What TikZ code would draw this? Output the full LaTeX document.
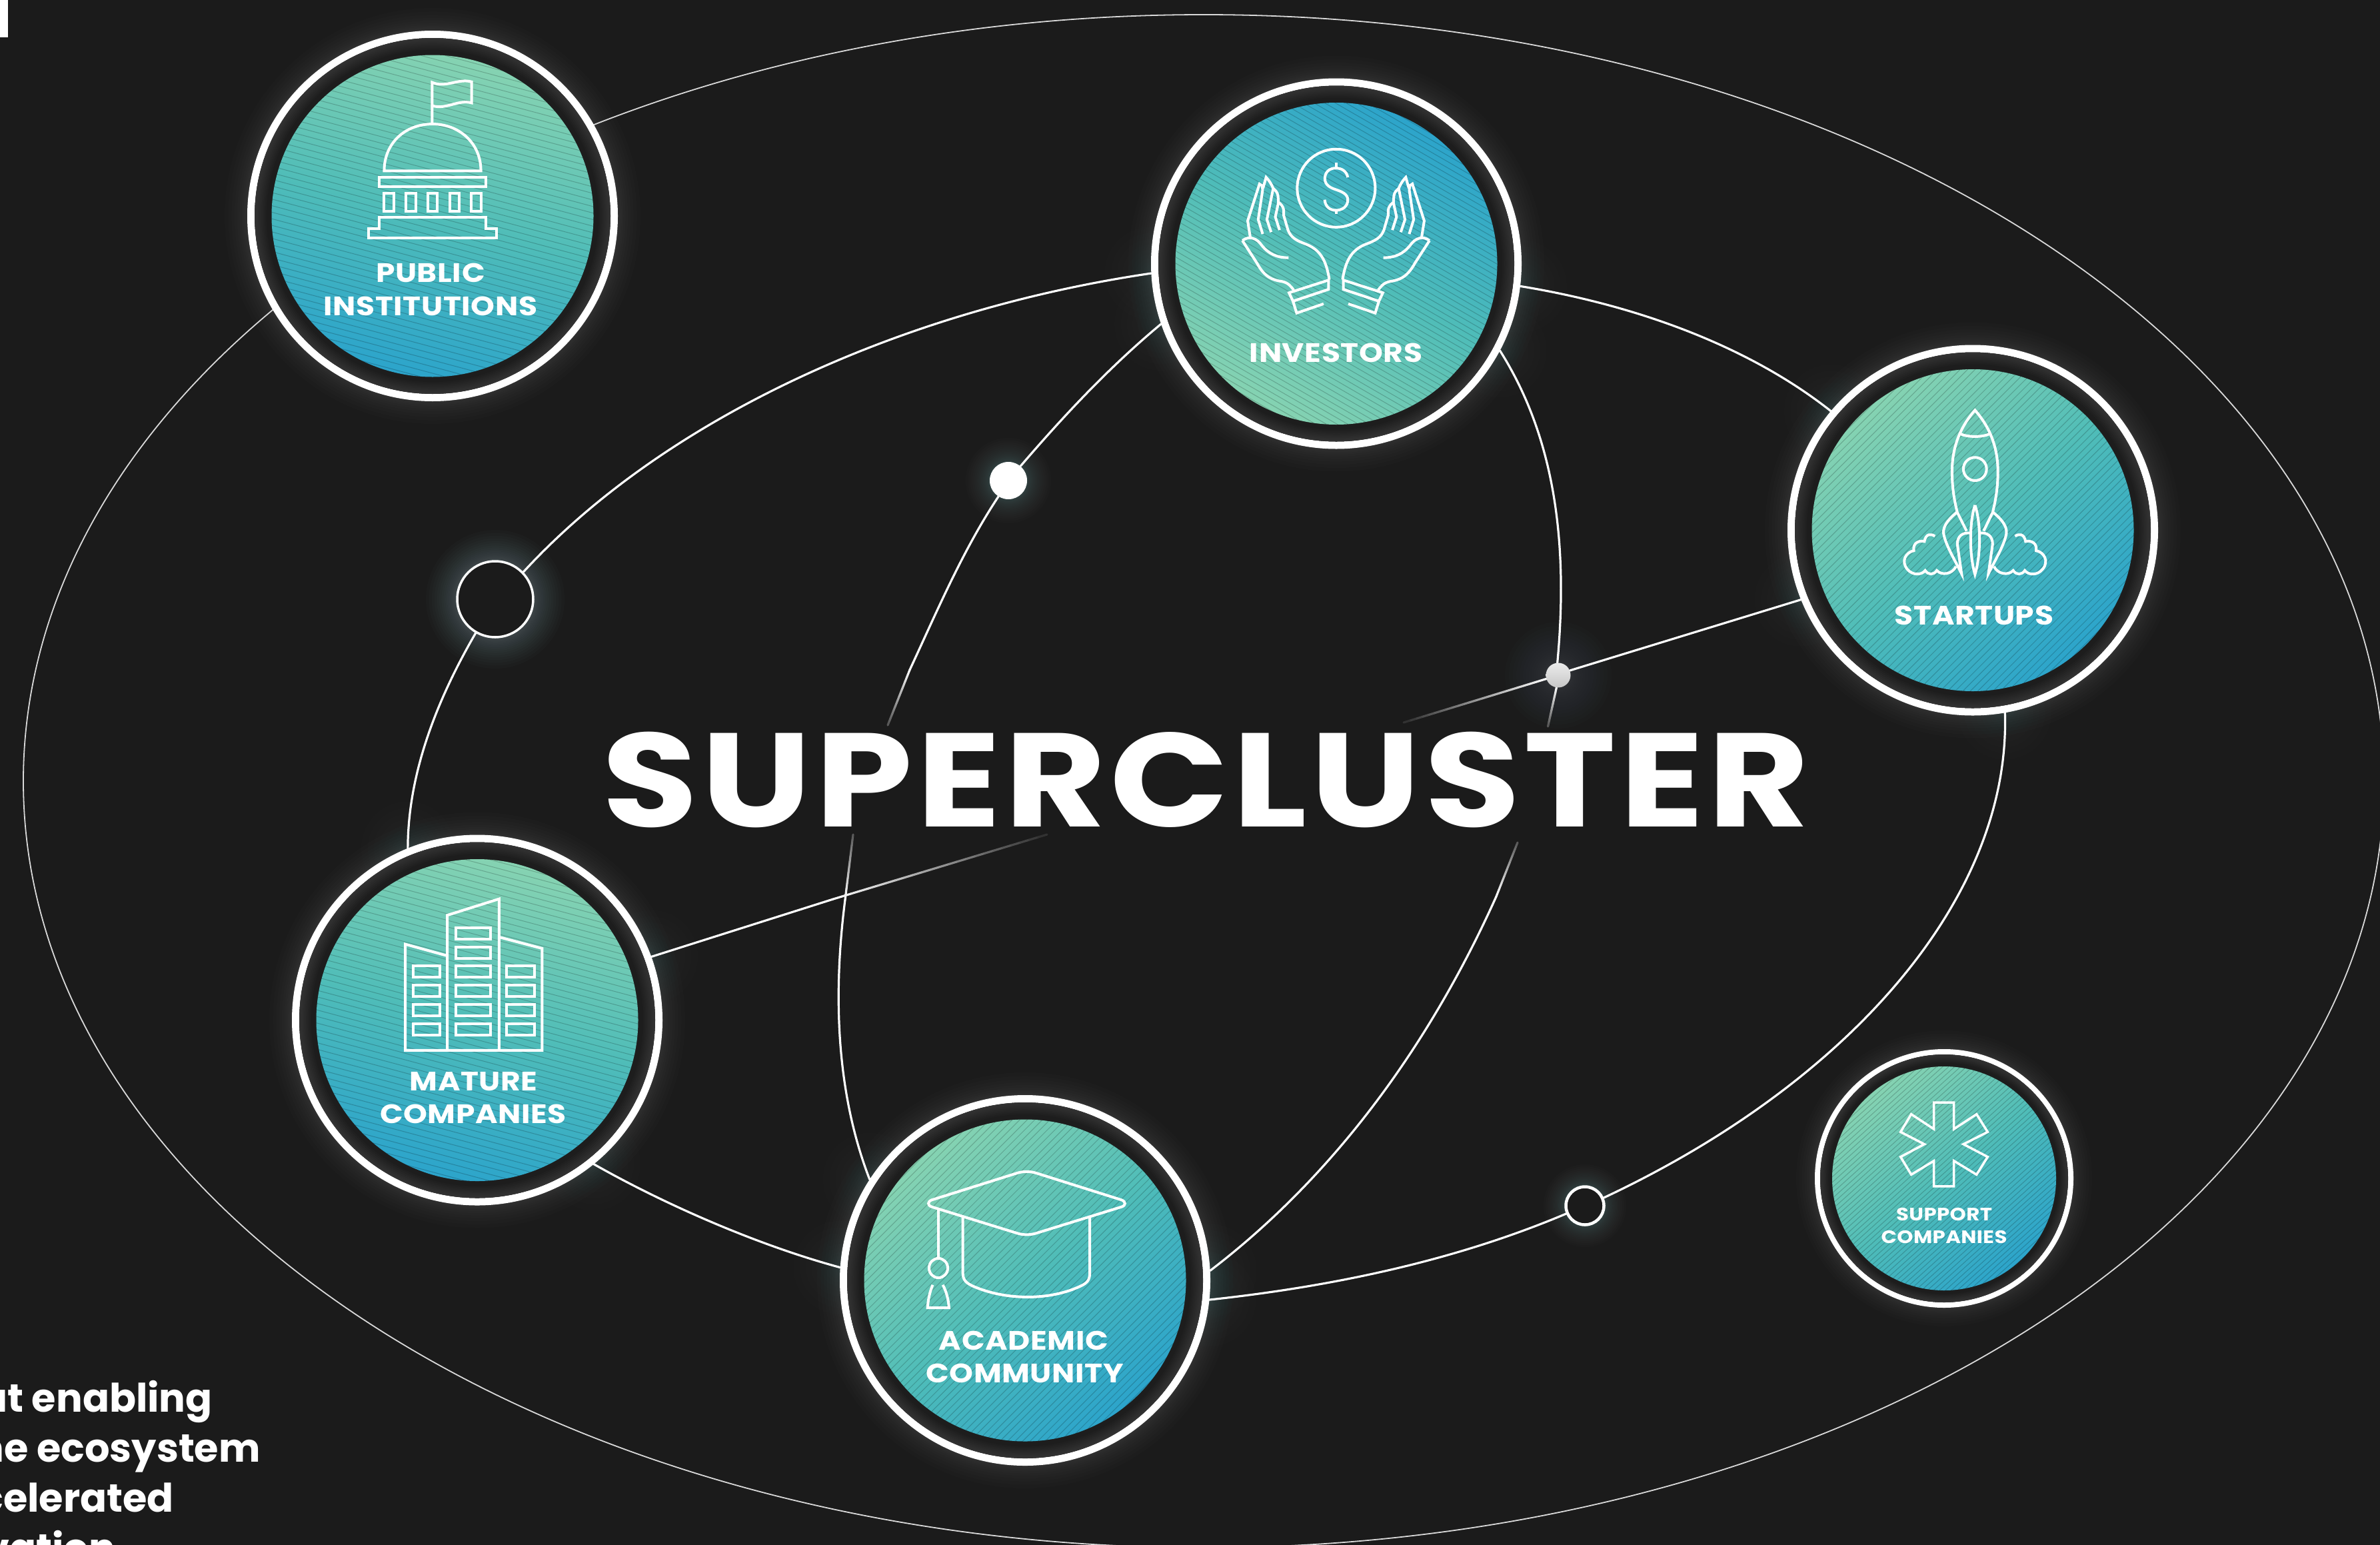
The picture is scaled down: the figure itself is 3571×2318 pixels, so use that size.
\documentclass[tikz,border=0pt]{standalone}
\usepackage{fontspec}
\usetikzlibrary{calc}
\newfontfamily\bodyf{Poppins}
\newfontfamily\labf[FakeStretch=1.14,LetterSpace=1.5]{Poppins}
\newfontfamily\titlef[FakeStretch=1.17,LetterSpace=2.8]{Poppins}
\definecolor{bg}{HTML}{1B1B1B}
\definecolor{hubgreen}{HTML}{86D3B2}
\definecolor{hubmid}{HTML}{50BDB8}
\definecolor{hubblue}{HTML}{2CA4CB}
\definecolor{halo}{HTML}{9FC8D0}
\definecolor{orbit}{HTML}{D9D9D9}
\pgfdeclarelayer{backl}
\pgfdeclarelayer{links}
\pgfsetlayers{backl,links,main}
\tikzset{
  hub/.style={circle,draw=white,fill=bg,line width=11pt,inner sep=0pt,minimum size=545pt},
  hubsmall/.style={circle,draw=white,fill=bg,line width=8pt,inner sep=0pt,minimum size=380pt},
  hollowbig/.style={circle,draw=white,fill=bg,line width=3.5pt,inner sep=0pt,minimum size=114pt},
  hollowsmall/.style={circle,draw=white,fill=bg,line width=4.5pt,inner sep=0pt,minimum size=57pt},
  dotwhite/.style={circle,fill=white,inner sep=0pt,minimum size=56pt},
  dotgrey/.style={circle,top color=white!92!black,bottom color=white!78!black,inner sep=0pt,minimum size=37pt},
  link/.style={draw=white,line width=3.2pt,line cap=round},
  orbitline/.style={draw=orbit,line width=1.8pt},
  icon/.style={draw=white,line width=4pt,line join=miter},
  hatchline/.style={draw=black,opacity=.2,line width=1pt},
  lab/.style={anchor=base,text=white,inner sep=0pt,font=\labf\bfseries\fontsize{40}{40}\selectfont},
  labsmall/.style={anchor=base,text=white,inner sep=0pt,font=\labf\bfseries\fontsize{27}{27}\selectfont},
  bodytext/.style={anchor=base east,text=white,inner sep=0pt,font=\bodyf\bfseries\fontsize{59}{59}\selectfont},
}
\newcommand{\glow}[6]{%
  \foreach \i in {1,...,#6}{%
    \pgfmathsetmacro\rr{#2+#3*(\i/#6)^2}%
    \fill[#4,fill opacity=#5] (#1) circle (\rr);}}
\newcommand{\hubdisk}[8]{%
  \foreach \k in {0,...,9}{%
    \pgfmathsetmacro\rr{#2-(#2-#3)*\k/10}%
    \pgfmathsetmacro\pc{max(0,9*(1-\k/7))+1}%
    \fill[white!\pc!bg] (#1) circle (\rr);}
  \shade[top color=#7,bottom color=#8,middle color=hubmid,shading angle=#4] (#1) circle (#3);
  \begin{scope}
    \clip (#1) circle (#3);
    \begin{scope}[shift={(#1)},rotate=#5]
      \pgfmathtruncatemacro\nn{#3/#6}
      \pgfmathtruncatemacro\lo{-\nn}
      \foreach \i in {\lo,...,\nn}{\draw[hatchline] (-#3,\i*#6) -- (#3,\i*#6);}
    \end{scope}
  \end{scope}}
\newcommand{\fadeline}[4]{%
  \foreach \i in {1,...,24}{%
    \pgfmathsetmacro\fa{(\i-1)/24}%
    \pgfmathsetmacro\fb{\i/24}%
    \pgfmathsetmacro\pc{#3+(#4-#3)*(\i-.5)/24}%
    \draw[link,draw=white!\pc!bg] ($(#1)!\fa!(#2)$) -- ($(#1)!\fb!(#2)$);}}
\begin{document}
\begin{tikzpicture}[x=1pt,y=-1pt]
\useasboundingbox (0,0) rectangle (3571,2318);
% hubs
\node[hub] (pub) at (649,324) {};
\node[hub] (inv) at (2005,395.5) {};
\node[hub] (sta) at (2960,795.5) {};
\node[hub] (mat) at (716,1530.5) {};
\node[hub] (aca) at (1538,1921) {};
\node[hubsmall] (sup) at (2917,1768) {};
% junction dots
\node[hollowbig] (dotA) at (743,899) {};
\node[hollowsmall] (dotB) at (2378,1809) {};
\node[dotwhite] (dotW) at (1513,721) {};
\node[dotgrey] (dotG) at (2338,1013) {};
% free ends of the fading connectors
\coordinate (fadeMat) at (1250,1349);
\coordinate (fadeMatEnd) at (1571,1252);
\coordinate (fadeStaEnd) at (2106,1084);
\coordinate (fadeWa) at (1365,1005);
\coordinate (fadeWb) at (1332,1088);
\coordinate (fadeAa) at (1280,1252);
\coordinate (fadeAb) at (1268,1350);
\coordinate (fadeGb) at (2322.5,1090);
\coordinate (fadeRa) at (2277,1264);
\coordinate (fadeRb) at (2245,1345);
\coordinate (orbitC) at (1806,1172);
% background and glows
\begin{pgfonlayer}{backl}
  \fill[bg] (0,0) rectangle (3571,2318);
  \foreach \n in {pub,inv,sta,mat,aca}{\glow{\n}{278}{34}{white}{.012}{12}}
  \glow{sup}{194}{28}{white}{.012}{12}
  \glow{dotA}{58}{46}{halo}{.018}{20}
  \glow{dotB}{30}{32}{halo}{.016}{20}
  \glow{dotW}{28}{36}{halo}{.016}{20}
  \glow{dotG}{18}{62}{halo}{.012}{20}
  \foreach \p in {inv.199.3,inv.332.8,inv.183.4,inv.353.5,sta.140,sta.202.4,sta.280,mat.112.3,mat.309.7,mat.20.3,aca.147.2,aca.176.7,aca.3.2,aca.354.5}{%
    \glow{\p}{0}{70}{halo}{.008}{14}}
\end{pgfonlayer}
% connectors
\begin{pgfonlayer}{links}
  \draw[orbitline] (orbitC) ellipse (1771 and 1150);
  % middle orbit, hub to hub
  \draw[link] (inv.183.4) .. controls (1348,466) and (995,630) .. (dotA.44);
  \draw[link] (dotA.240) .. controls (652,1056) and (612,1165) .. (mat.112.3);
  \draw[link] (mat.309.7) .. controls (1001,1809) and (1140,1869) .. (aca.176.7);
  \draw[link] (aca.354.5) .. controls (2001,1930) and (2184,1891) .. (dotB.203.9);
  \draw[link] (dotB.23.9) .. controls (2775,1624) and (3017,1347) .. (sta.280);
  \draw[link] (sta.140) .. controls (2631,525) and (2468,460) .. (inv.353.5);
  % inner arcs
  \draw[link] (inv.199.3) .. controls (1664,551) and (1595,625) .. (dotW.50);
  \draw[link] (dotW.238) .. controls (1444,826.5) and (1406,917) .. (fadeWa);
  \fadeline{fadeWa}{fadeWb}{100}{25}
  \fadeline{fadeAa}{fadeAb}{25}{100}
  \draw[link] (fadeAb) .. controls (1250,1490) and (1254,1638) .. (aca.147.2);
  \draw[link] (inv.332.8) .. controls (2338,664) and (2352,829) .. (dotG.94);
  \fadeline{dotG.262}{fadeGb}{100}{25}
  \fadeline{fadeRa}{fadeRb}{25}{100}
  \draw[link] (fadeRb) .. controls (2147,1563) and (2006,1761) .. (aca.3.2);
  % straight line
  \draw[link] (sta.202.4) -- (dotG.22);
  \fadeline{dotG.197}{fadeStaEnd}{100}{8}
  \draw[link] (mat.20.3) -- (fadeMat);
  \fadeline{fadeMat}{fadeMatEnd}{100}{8}
\end{pgfonlayer}
% disks
\hubdisk{pub}{267}{241.5}{-15}{-15}{9.5}{hubgreen}{hubblue}
\hubdisk{inv}{267}{241.5}{-30}{-30}{8}{hubblue}{hubgreen}
\hubdisk{sta}{267}{241.5}{40}{45}{8}{hubgreen}{hubblue}
\hubdisk{mat}{267}{241.5}{-15}{-15}{9.5}{hubgreen}{hubblue}
\hubdisk{aca}{267}{241.5}{40}{45}{8}{hubgreen}{hubblue}
\hubdisk{sup}{186}{168}{40}{42}{6}{hubgreen}{hubblue}
% public institutions icon
\begin{scope}[shift={(340,20)},x=.3954pt,y=-.3954pt]
  \draw[icon] (780,415) -- (780,262) .. controls (830,285) and (880,245) .. (930,260) -- (930,340) .. controls (880,325) and (830,368) .. (780,350);
  \draw[icon] (598,598) .. controls (598,490) and (680,420) .. (781,420) .. controls (880,420) and (965,490) .. (965,598) -- cycle;
  \draw[icon] (578,622) rectangle (985,658);
  \foreach \c in {597,680,763,846,929}{\draw[icon] (\c,682) rectangle (\c+37,750);}
  \draw[icon] (578,775) -- (985,775) -- (985,818) -- (1025,818) -- (1025,852) -- (538,852) -- (538,818) -- (578,818) -- cycle;
\end{scope}
% investors icon
\begin{scope}[shift={(1700,100)},x=.3954pt,y=-.3954pt]
  \draw[icon] (771,461) circle (148);
  \draw[icon] (815,420) .. controls (810,395) and (790,385) .. (770,385) .. controls (745,385) and (728,400) .. (728,425) .. controls (728,450) and (750,460) .. (771,467) .. controls (795,475) and (815,485) .. (815,505) .. controls (815,530) and (795,545) .. (770,545) .. controls (745,545) and (730,530) .. (727,505);
  \draw[icon] (771,365) -- (771,385) (771,545) -- (771,558);
  \foreach \ox/\sx in {0/.3954pt,1540/-.3954pt}{%
  \begin{scope}[shift={(\ox,0)},x=\sx]
    \draw[icon] (745,808) .. controls (735,750) and (720,700) .. (660,675) .. controls (620,660) and (600,650) .. (588,620) -- (572,565) -- (572,545) .. controls (570,530) and (560,520) .. (552,515) -- (550,490) .. controls (548,475) and (540,470) .. (532,462) .. controls (525,445) and (515,430) .. (505,420) -- (495,455) -- (480,445) -- (435,585) -- (445,648);
    \draw[icon] (490,455) .. controls (492,465) and (492,470) .. (490,480) -- (475,580) -- (492,635);
    \draw[icon] (532,462) -- (508,580) -- (524,628);
    \draw[icon] (552,515) -- (540,570) -- (556,620);
    \draw[icon] (415,660) .. controls (440,640) and (470,650) .. (490,680) .. controls (515,710) and (545,725) .. (590,725);
    \draw[icon] (415,660) -- (470,745) .. controls (500,800) and (530,810) .. (565,815) .. controls (590,820) and (600,835) .. (610,848);
    \draw[icon] (592,858) -- (742,810) -- (742,845) -- (607,890) -- cycle;
    \draw[icon] (607,890) -- (621,935) -- (723,900);
  \end{scope}}
\end{scope}
% startups icon
\begin{scope}[shift={(2660,500)},x=.3954pt,y=-.3954pt]
  \draw[icon] (735,750) -- (700,680) .. controls (690,640) and (680,590) .. (680,525) .. controls (680,420) and (720,345) .. (767,292) .. controls (814,345) and (854,420) .. (854,525) .. controls (854,590) and (844,640) .. (834,680) -- (800,750);
  \draw[icon] (712,382) .. controls (740,395) and (795,395) .. (822,382);
  \draw[icon] (767,515) circle (44);
  \draw[icon] (767,652) .. controls (745,720) and (745,840) .. (767,915) .. controls (790,840) and (790,720) .. (767,652);
  \foreach \ox/\sx in {0/.3954pt,1534/-.3954pt}{%
  \begin{scope}[shift={(\ox,0)},x=\sx]
    \draw[icon] (700,678) .. controls (660,710) and (640,740) .. (650,770) .. controls (660,810) and (690,860) .. (716,912) -- (700,800) .. controls (700,770) and (720,755) .. (748,758);
    \draw[icon] (695,885) .. controls (680,915) and (640,920) .. (622,900) .. controls (610,918) and (590,918) .. (578,900) .. controls (565,918) and (530,920) .. (510,895) .. controls (485,865) and (505,830) .. (535,825) .. controls (530,795) and (555,785) .. (575,790) .. controls (580,760) and (600,760) .. (615,770);
  \end{scope}}
\end{scope}
% mature companies icon
\begin{scope}[shift={(420,1230)},x=.3954pt,y=-.3954pt]
  \draw[icon] (632,515) -- (476,472) -- (476,875) -- (995,875) -- (995,488) -- (832,445);
  \draw[icon] (635,875) -- (635,362) -- (832,300) -- (832,875);
  \foreach \r in {555,628,700,775}{%
    \draw[icon] (505,\r) rectangle (608,\r+43);
    \draw[icon] (668,\r) rectangle (800,\r+43);
    \draw[icon] (860,\r) rectangle (965,\r+43);}
  \foreach \r in {410,483}{\draw[icon] (668,\r) rectangle (800,\r+43);}
\end{scope}
% academic community icon
\begin{scope}[shift={(1250,1630)},x=.37pt,y=-.3827pt]
  \draw[icon] (400,445) -- (745,340) .. controls (770,332) and (800,332) .. (825,340) -- (1170,445) .. controls (1188,452) and (1188,466) .. (1170,472) -- (825,575) .. controls (800,583) and (770,583) .. (745,575) -- (400,472) .. controls (382,466) and (382,452) .. (400,445) -- cycle;
  \draw[icon] (526,512) -- (526,730) .. controls (526,760) and (540,770) .. (565,782) .. controls (700,840) and (880,840) .. (1005,782) .. controls (1030,770) and (1041,760) .. (1041,730) -- (1041,512);
  \draw[icon] (427,480) -- (427,675);
  \draw[icon] (427,712) circle (38);
  \draw[icon] (404,778) .. controls (390,810) and (385,840) .. (383,868) -- (470,868) .. controls (468,840) and (462,810) .. (445,778);
\end{scope}
% support companies icon
\begin{scope}[shift={(2700,1550)},x=.3333pt,y=-.3333pt]
  \draw[icon,line width=3.5pt] (605,312) -- (695,312) -- (695,432) -- (797,365) -- (847,445) -- (738,500) -- (847,557) -- (797,637) -- (695,575) -- (695,690) -- (605,690) -- (605,575) -- (503,637) -- (455,557) -- (562,500) -- (455,445) -- (503,365) -- (605,432) -- cycle;
\end{scope}
% labels
\node[lab] (tPub1) at (646,423) {PUBLIC};
\node[lab] (tPub2) at (646,473) {INSTITUTIONS};
\node[lab] (tInv) at (2004.5,543.6) {INVESTORS};
\node[lab] (tSta) at (2962,937) {STARTUPS};
\node[lab] (tMat1) at (710.6,1636.5) {MATURE};
\node[lab] (tMat2) at (710,1685.5) {COMPANIES};
\node[lab] (tAca1) at (1536,2025) {ACADEMIC};
\node[lab] (tAca2) at (1537.5,2074.7) {COMMUNITY};
\node[labsmall] (tSup1) at (2917,1831.7) {SUPPORT};
\node[labsmall] (tSup2) at (2917,1865) {COMPANIES};
\node[anchor=base,text=white,inner sep=0pt,font=\titlef\bfseries\fontsize{200}{200}\selectfont] (title) at (1809.5,1240) {SUPERCLUSTER};
% corner mark and cut-off text
\fill[white] (0,0) rectangle (12,55.6);
\begin{scope}
  \clip (0,0) rectangle (3571,2318);
  \node[bodytext] (b1) at (319,2118.7) {at enabling};
  \node[bodytext] (b2) at (391,2193) {the ecosystem};
  \node[bodytext] (b3) at (261,2268) {accelerated};
  \node[bodytext] (b4) at (173,2343) {innovation};
\end{scope}
\end{tikzpicture}
\end{document}
